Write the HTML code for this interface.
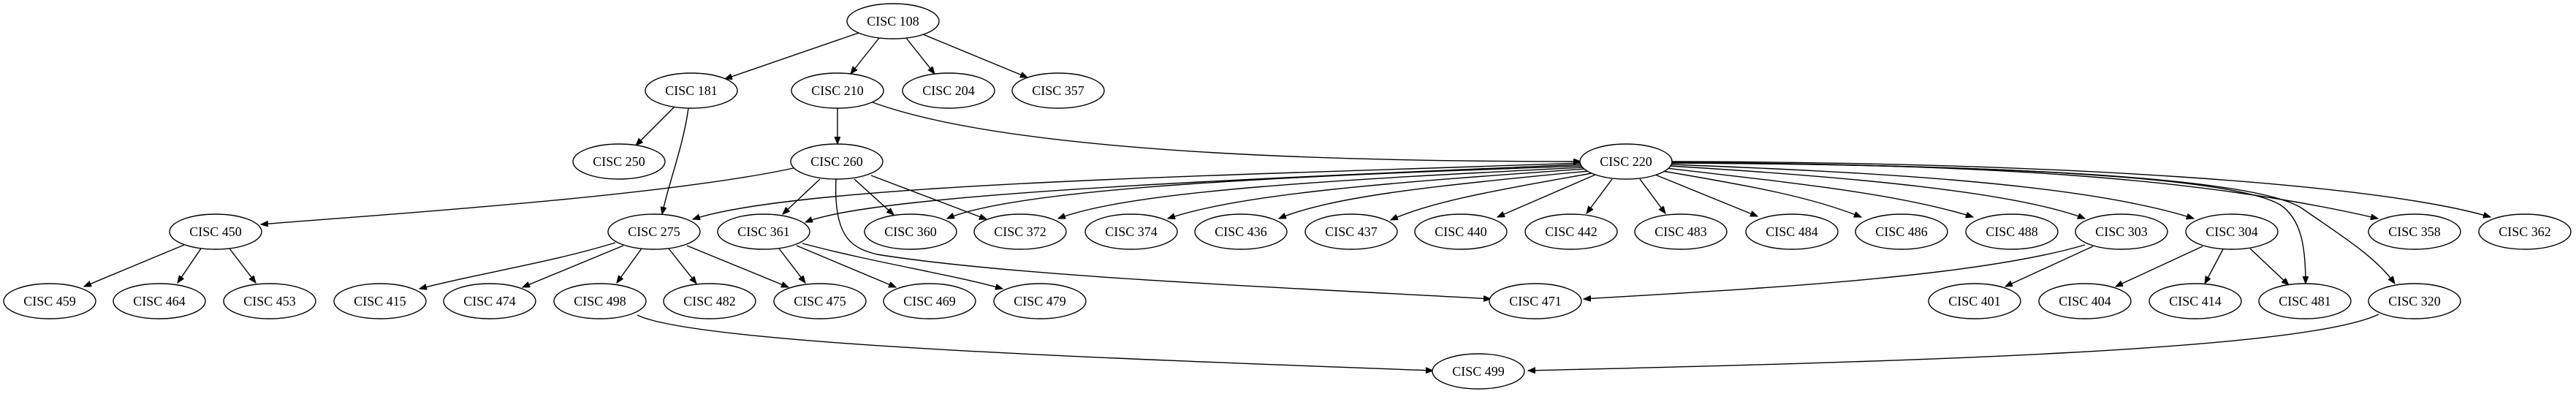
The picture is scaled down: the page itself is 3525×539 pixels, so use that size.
<!DOCTYPE html>
<html><head><meta charset="utf-8"><style>
html,body{margin:0;padding:0;background:#fff;}
svg{display:block;}
text{font-family:"Liberation Serif",serif;font-size:18px;text-anchor:middle;fill:#000;}
ellipse{fill:#fff;stroke:#000;stroke-width:1.4;}
path{fill:none;stroke:#000;stroke-width:1.4;}
</style></head><body>
<svg width="3525" height="539" viewBox="0 0 3525 539" xmlns="http://www.w3.org/2000/svg">
<defs><marker id="a" markerUnits="userSpaceOnUse" markerWidth="11" markerHeight="9" refX="10" refY="4" orient="auto"><path d="M0,0 L10,4 L0,8 z" style="fill:#000;stroke:#000;stroke-width:1"/></marker></defs>
<g marker-end="url(#a)">
<path d="M1175,45 L992,108"/>
<path d="M1203,52 L1164,101"/>
<path d="M1240,52 L1279,101"/>
<path d="M1263,47 L1406,106"/>
<path d="M923,146 L870,199"/>
<path d="M942,148 C935,200 915,250 906,293"/>
<path d="M1146,148 L1146,197"/>
<path d="M1194,140 C1400,215 1900,221 2163,221"/>
<path d="M1086,230 C900,270 500,295 357,307"/>
<path d="M1122,245 L1071,293"/>
<path d="M1169,245 L1223,294"/>
<path d="M1192,240 L1350,300"/>
<path d="M1144,245 C1140,330 1170,340 1200,348 C1400,380 1800,395 2040,409"/>
<path d="M2163,223 C1700,240 1100,250 948,300"/>
<path d="M2163,225 C1700,245 1200,265 1102,304"/>
<path d="M2165,227 C1800,240 1400,255 1296,299"/>
<path d="M2167,229 C1850,245 1550,260 1448,299"/>
<path d="M2170,231 C1900,250 1700,265 1598,299"/>
<path d="M2174,234 C1950,255 1820,270 1750,299"/>
<path d="M2178,237 C2050,260 1960,275 1903,301"/>
<path d="M2183,239 L2049,297"/>
<path d="M2206,245 L2171,292"/>
<path d="M2244,245 L2279,292"/>
<path d="M2265,239 L2405,296"/>
<path d="M2275,234 C2400,255 2480,270 2547,297"/>
<path d="M2280,230 C2450,250 2600,265 2700,297"/>
<path d="M2284,227 C2500,240 2750,260 2853,299"/>
<path d="M2286,225 C2550,235 2850,250 3002,299"/>
<path d="M2287,223 C2700,225 3050,240 3120,280 C3150,300 3155,340 3155,388"/>
<path d="M2287,223 C2700,225 3080,240 3150,285 C3200,320 3250,350 3277,388"/>
<path d="M2287,222 C2700,225 3000,240 3254,299"/>
<path d="M2287,221 C2800,222 3250,250 3408,297"/>
<path d="M252,335 L115,392"/>
<path d="M275,340 L243,387"/>
<path d="M314,340 L350,387"/>
<path d="M842,332 C750,360 650,375 574,395"/>
<path d="M853,336 L715,393"/>
<path d="M878,340 L844,387"/>
<path d="M915,340 L953,388"/>
<path d="M940,336 L1079,393"/>
<path d="M1066,340 L1102,387"/>
<path d="M1090,336 L1226,393"/>
<path d="M1098,333 C1200,360 1300,375 1372,395"/>
<path d="M872,431 C950,470 1500,490 1961,507"/>
<path d="M3255,430 C3150,480 2600,495 2091,507"/>
<path d="M2853,335 C2700,380 2400,395 2167,409"/>
<path d="M2864,337 L2744,392"/>
<path d="M3014,337 L2895,392"/>
<path d="M3042,341 L3017,388"/>
<path d="M3079,340 L3132,390"/>
</g>
<g>
<ellipse cx="1222" cy="29" rx="63" ry="24"/><text x="1222" y="35">CISC 108</text>
<ellipse cx="946" cy="124" rx="63" ry="24"/><text x="946" y="130">CISC 181</text>
<ellipse cx="1146" cy="124" rx="63" ry="24"/><text x="1146" y="130">CISC 210</text>
<ellipse cx="1298" cy="124" rx="63" ry="24"/><text x="1298" y="130">CISC 204</text>
<ellipse cx="1448" cy="124" rx="63" ry="24"/><text x="1448" y="130">CISC 357</text>
<ellipse cx="847" cy="221" rx="63" ry="24"/><text x="847" y="227">CISC 250</text>
<ellipse cx="1145" cy="221" rx="63" ry="24"/><text x="1145" y="227">CISC 260</text>
<ellipse cx="2225" cy="221" rx="63" ry="24"/><text x="2225" y="227">CISC 220</text>
<ellipse cx="295" cy="317" rx="63" ry="24"/><text x="295" y="323">CISC 450</text>
<ellipse cx="895" cy="317" rx="63" ry="24"/><text x="895" y="323">CISC 275</text>
<ellipse cx="1045" cy="317" rx="63" ry="24"/><text x="1045" y="323">CISC 361</text>
<ellipse cx="1246" cy="317" rx="63" ry="24"/><text x="1246" y="323">CISC 360</text>
<ellipse cx="1396" cy="317" rx="63" ry="24"/><text x="1396" y="323">CISC 372</text>
<ellipse cx="1548" cy="317" rx="63" ry="24"/><text x="1548" y="323">CISC 374</text>
<ellipse cx="1698" cy="317" rx="63" ry="24"/><text x="1698" y="323">CISC 436</text>
<ellipse cx="1849" cy="317" rx="63" ry="24"/><text x="1849" y="323">CISC 437</text>
<ellipse cx="1999" cy="317" rx="63" ry="24"/><text x="1999" y="323">CISC 440</text>
<ellipse cx="2150" cy="317" rx="63" ry="24"/><text x="2150" y="323">CISC 442</text>
<ellipse cx="2300" cy="317" rx="63" ry="24"/><text x="2300" y="323">CISC 483</text>
<ellipse cx="2452" cy="317" rx="63" ry="24"/><text x="2452" y="323">CISC 484</text>
<ellipse cx="2602" cy="317" rx="63" ry="24"/><text x="2602" y="323">CISC 486</text>
<ellipse cx="2753" cy="317" rx="63" ry="24"/><text x="2753" y="323">CISC 488</text>
<ellipse cx="2903" cy="317" rx="63" ry="24"/><text x="2903" y="323">CISC 303</text>
<ellipse cx="3054" cy="317" rx="63" ry="24"/><text x="3054" y="323">CISC 304</text>
<ellipse cx="3304" cy="317" rx="63" ry="24"/><text x="3304" y="323">CISC 358</text>
<ellipse cx="3455" cy="317" rx="63" ry="24"/><text x="3455" y="323">CISC 362</text>
<ellipse cx="68" cy="412" rx="63" ry="24"/><text x="68" y="418">CISC 459</text>
<ellipse cx="218" cy="412" rx="63" ry="24"/><text x="218" y="418">CISC 464</text>
<ellipse cx="369" cy="412" rx="63" ry="24"/><text x="369" y="418">CISC 453</text>
<ellipse cx="520" cy="412" rx="63" ry="24"/><text x="520" y="418">CISC 415</text>
<ellipse cx="670" cy="412" rx="63" ry="24"/><text x="670" y="418">CISC 474</text>
<ellipse cx="821" cy="412" rx="63" ry="24"/><text x="821" y="418">CISC 498</text>
<ellipse cx="971" cy="412" rx="63" ry="24"/><text x="971" y="418">CISC 482</text>
<ellipse cx="1122" cy="412" rx="63" ry="24"/><text x="1122" y="418">CISC 475</text>
<ellipse cx="1272" cy="412" rx="63" ry="24"/><text x="1272" y="418">CISC 469</text>
<ellipse cx="1423" cy="412" rx="63" ry="24"/><text x="1423" y="418">CISC 479</text>
<ellipse cx="2101" cy="412" rx="63" ry="24"/><text x="2101" y="418">CISC 471</text>
<ellipse cx="2702" cy="412" rx="63" ry="24"/><text x="2702" y="418">CISC 401</text>
<ellipse cx="2853" cy="412" rx="63" ry="24"/><text x="2853" y="418">CISC 404</text>
<ellipse cx="3004" cy="412" rx="63" ry="24"/><text x="3004" y="418">CISC 414</text>
<ellipse cx="3154" cy="412" rx="63" ry="24"/><text x="3154" y="418">CISC 481</text>
<ellipse cx="3304" cy="412" rx="63" ry="24"/><text x="3304" y="418">CISC 320</text>
<ellipse cx="2023" cy="508" rx="63" ry="24"/><text x="2023" y="514">CISC 499</text>
</g>
</svg>
</body></html>
